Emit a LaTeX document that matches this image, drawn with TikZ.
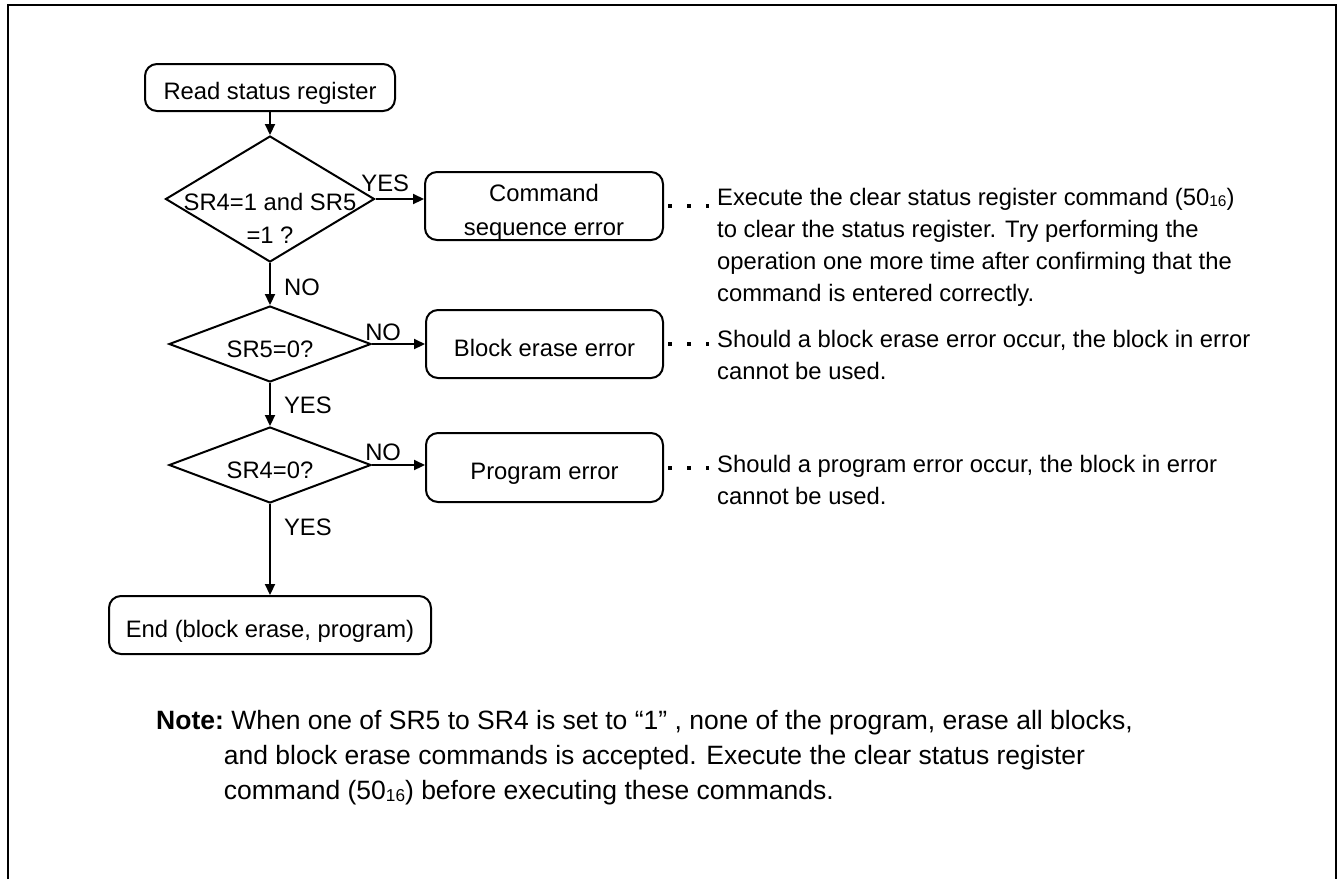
\documentclass[tikz,border=0pt]{standalone}
\usepackage{fontspec}
\setmainfont{Liberation Sans}
\usetikzlibrary{shapes.geometric,arrows.meta}
\newcommand{\hexsub}[1]{\raisebox{-0.08em}{\scalebox{0.65}{#1}}}
\tikzset{
  stepbox/.style={draw, rounded corners=12pt, line width=2pt, inner sep=0pt, text height=24pt, text depth=0pt, font=\fontsize{23.8}{34}\selectfont},
  decision/.style={draw, diamond, line width=2pt, inner sep=0pt},
  flow/.style={line width=2.2pt, -{Triangle[length=11pt,width=10pt]}},
  dotline/.style={line width=4pt, dash pattern=on 4pt off 15pt, shorten <=4pt, shorten >=8pt},
  lbl/.style={inner sep=0pt, font=\fontsize{23.8}{33}\selectfont},
  remark/.style={inner sep=0pt, anchor=base west, font=\fontsize{23.8}{32}\selectfont}
}
\begin{document}
\begin{tikzpicture}[x=1pt,y=-1pt]
  \useasboundingbox (0,0) rectangle (1339,879);
  \draw[line width=2.5pt] (8,879) -- (8,5) -- (1336,5) -- (1336,879);

  \node[stepbox, minimum width=250pt, minimum height=47pt] (rsr) at (270,87.5) {Read status register};
  \node[decision, minimum width=209pt, minimum height=126pt,
    label={[lbl, align=center, yshift=-19pt]center:SR4=1 and SR5\\=1 ?}] (d1) at (270,199) {};
  \node[decision, minimum width=202pt, minimum height=76pt,
    label={[lbl, yshift=-5pt]center:SR5=0?}] (d2) at (270,344) {};
  \node[decision, minimum width=202pt, minimum height=76pt,
    label={[lbl, yshift=-5pt]center:SR4=0?}] (d3) at (270,465) {};
  \node[stepbox, minimum width=238pt, minimum height=68pt] (cse) at (544,206)
    {\begin{tabular}{@{}c@{}}Command\\sequence error\end{tabular}};
  \node[stepbox, minimum width=237pt, minimum height=68pt] (bee) at (544.5,344) {Block erase error};
  \node[stepbox, minimum width=237pt, minimum height=69pt] (pe) at (544.5,467.5) {Program error};
  \node[stepbox, minimum width=322pt, minimum height=58pt] (fin) at (270,625) {End (block erase, program)};

  \node[remark] (cmdnote) at (717,205) {\begin{tabular}[t]{@{}l@{}}
    Execute the clear status register command (50\hexsub{16})\\
    to clear the status register. Try performing the\\
    operation one more time after confirming that the\\
    command is entered correctly.\end{tabular}};
  \node[remark] (benote) at (717,347) {\begin{tabular}[t]{@{}l@{}}
    Should a block erase error occur, the block in error\\
    cannot be used.\end{tabular}};
  \node[remark] (penote) at (717,472) {\begin{tabular}[t]{@{}l@{}}
    Should a program error occur, the block in error\\
    cannot be used.\end{tabular}};
  \node[remark, font=\fontsize{26.5}{35}\selectfont] (note) at (156,729) {\begin{tabular}[t]{@{}l@{}l@{}}
    \textbf{Note:} & ~When one of SR5 to SR4 is set to “1” , none of the program, erase all blocks,\\
    & and block erase commands is accepted. Execute the clear status register\\
    & command (50\hexsub{16}) before executing these commands.\end{tabular}};

  \draw[flow] (rsr) -- (d1);
  \draw[flow] (d1.east) -- (d1.east -| cse.west) node[lbl, above=6pt, pos=0.2] (yes1) {YES};
  \draw[flow] (d1) -- (d2) node[lbl, right=13pt, pos=0.57] (no1) {NO};
  \draw[flow] (d2.east) -- (d2.east -| bee.west) node[lbl, above=2pt, pos=0.21] (no2) {NO};
  \draw[flow] (d2) -- (d3) node[lbl, right=13pt, pos=0.51] (yes2) {YES};
  \draw[flow] (d3.east) -- (d3.east -| pe.west) node[lbl, above=3pt, pos=0.21] (no3) {NO};
  \draw[flow] (d3) -- (fin) node[lbl, right=13pt, pos=0.26] (yes3) {YES};
  \foreach \b/\n in {cse/cmdnote, bee/benote, pe/penote}
    \draw[dotline] (\b.east) -- (\b.east -| \n.west);
\end{tikzpicture}
\end{document}
